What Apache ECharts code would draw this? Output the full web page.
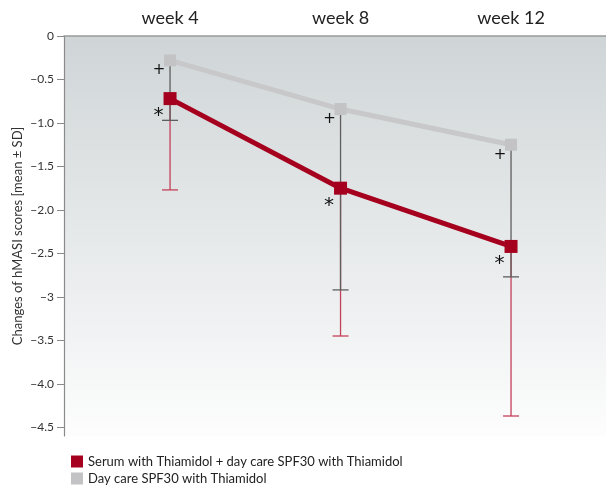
<!DOCTYPE html>
<html>
<head>
<meta charset="utf-8">
<script src="https://cdn.jsdelivr.net/npm/echarts@6/dist/echarts.min.js"></script>
<style>
  html, body { margin: 0; padding: 0; background: #fff; }
  #chart { width: 606px; height: 486px; }
</style>
</head>
<body>
<div id="chart"></div>
<script>
// Study visits and their positions on the x scale
const weeks = ['week 4', 'week 8', 'week 12'];
const weekPos = [1, 2, 3];

// Mean change of hMASI score per group
const serumMean = [-0.72, -1.75, -2.42];
const serumSD = [1.05, 1.70, 1.95];
const dayCareMean = [-0.28, -0.84, -1.25];
const dayCareSD = [0.69, 2.08, 1.52];

// Significance marks next to each mean
const serumMark = '*';
const dayCareMark = '+';

// Y tick labels
const yTicks = [0, -0.5, -1.0, -1.5, -2.0, -2.5, -3, -3.5, -4.0, -4.5];
const yTickText = ['0', '\u22120.5', '\u22121.0', '\u22121.5', '\u22122.0', '\u22122.5', '\u22123', '\u22123.5', '\u22124.0', '\u22124.5'];

const seriesNames = [
  'Serum with Thiamidol + day care SPF30 with Thiamidol',
  'Day care SPF30 with Thiamidol'
];

const RED = '#a6001f';
const RED_BAR = '#c4405a';
const GREY = '#c3c3c5';
const GREY_BAR = '#5e5e5e';
const FONT = 'Lato';

const chart = echarts.init(document.getElementById('chart'), null, { renderer: 'canvas' });

function pts(means) {
  return means.map((m, i) => [weekPos[i], m]);
}
function barData(means, sds) {
  return means.map((m, i) => [weekPos[i], m, m - sds[i]]);
}
function errorBars(color, width) {
  return function (params, api) {
    const x = api.value(0);
    const top = api.coord([x, api.value(1)]);
    const bot = api.coord([x, api.value(2)]);
    const half = 8;
    return {
      type: 'group',
      children: [
        { type: 'line', shape: { x1: top[0], y1: top[1], x2: bot[0], y2: bot[1] },
          style: { stroke: color, lineWidth: width } },
        { type: 'line', shape: { x1: bot[0] - half, y1: bot[1], x2: bot[0] + half, y2: bot[1] },
          style: { stroke: color, lineWidth: width } }
      ]
    };
  };
}

const option = {
  animation: false,
  textStyle: { fontFamily: FONT },
  grid: {
    left: 64, right: 0, top: 36, bottom: 50,
    outerBoundsMode: 'none',
    show: true, borderWidth: 0,
    backgroundColor: new echarts.graphic.LinearGradient(0, 0, 0, 1, [
      { offset: 0, color: '#cfd5d7' },
      { offset: 1, color: '#fdfdfd' }
    ])
  },
  legend: {
    orient: 'vertical', left: 66, top: 450, height: 60,
    itemWidth: 12, itemHeight: 12, itemGap: 4,
    icon: 'rect',
    textStyle: { fontFamily: FONT, fontSize: 13, color: '#222' },
    data: seriesNames
  },
  xAxis: {
    type: 'value', position: 'top',
    min: 0.378, max: 3.557,
    axisLine: { show: true, lineStyle: { color: '#9a9a9a', width: 1.5 } },
    axisTick: { show: false },
    splitLine: { show: false },
    axisLabel: {
      customValues: weekPos,
      formatter: v => weeks[Math.round(v) - 1] || '',
      fontFamily: FONT, fontSize: 18, color: '#222', margin: 9
    }
  },
  yAxis: {
    type: 'value', min: -4.6, max: 0,
    name: 'Changes of hMASI scores [mean \u00b1 SD]',
    nameLocation: 'middle', nameGap: 40, nameRotate: 90,
    nameMoveOverlap: false,
    nameTextStyle: { fontFamily: FONT, fontSize: 13, color: '#333' },
    axisLine: { show: true, lineStyle: { color: '#8a8a8a', width: 1.2 } },
    axisTick: { show: true, customValues: yTicks, length: 7, lineStyle: { color: '#8a8a8a' } },
    splitLine: { show: false },
    axisLabel: {
      customValues: yTicks,
      formatter: v => {
        const i = yTicks.findIndex(t => Math.abs(t - v) < 1e-6);
        return i >= 0 ? yTickText[i] : '';
      },
      fontFamily: FONT, fontSize: 12, color: '#333', margin: 10
    }
  },
  series: [
    {
      type: 'custom', name: 'serumSD', z: 2,
      renderItem: errorBars(RED_BAR, 1.3),
      data: barData(serumMean, serumSD), encode: { x: 0, y: [1, 2] }
    },
    {
      type: 'custom', name: 'dayCareSD', z: 3,
      renderItem: errorBars(GREY_BAR, 1.3),
      data: barData(dayCareMean, dayCareSD), encode: { x: 0, y: [1, 2] }
    },
    {
      type: 'line', name: seriesNames[1], z: 4,
      data: pts(dayCareMean),
      color: GREY,
      symbol: 'rect', symbolSize: 12,
      lineStyle: { color: '#c8c8ca', width: 5 },
      itemStyle: { color: GREY },
      label: {
        show: true, formatter: dayCareMark, position: [-5, 16],
        align: 'center', verticalAlign: 'middle',
        fontFamily: 'DejaVu Sans', fontSize: 15, color: '#111'
      }
    },
    {
      type: 'line', name: seriesNames[0], z: 5,
      data: pts(serumMean),
      color: RED,
      symbol: 'rect', symbolSize: 13,
      lineStyle: { color: RED, width: 5 },
      itemStyle: { color: RED },
      label: {
        show: true, formatter: serumMark, position: [-5, 24],
        align: 'center', verticalAlign: 'middle',
        fontFamily: 'DejaVu Sans', fontSize: 20, color: '#111'
      }
    }
  ]
};

chart.setOption(option);
</script>
</body>
</html>
